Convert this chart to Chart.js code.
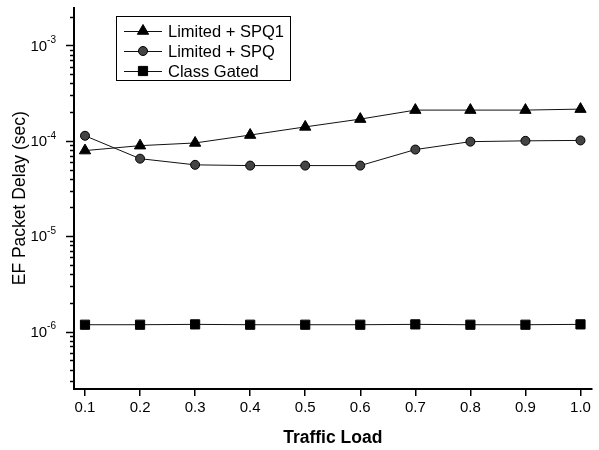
<!DOCTYPE html>
<html>
<head>
<meta charset="utf-8">
<script src="https://cdn.jsdelivr.net/npm/chart.js@4.4.0/dist/chart.umd.min.js"></script>
<style>
  html, body { margin: 0; padding: 0; background: #fff; }
  #chart { display: block; }
</style>
</head>
<body>
<canvas id="chart" width="599" height="450"></canvas>
<script>
// data
const trafficLoad = [0.1, 0.2, 0.3, 0.4, 0.5, 0.6, 0.7, 0.8, 0.9, 1.0];
const spq1Delay = [7.9e-5, 8.9e-5, 9.5e-5, 1.15e-4, 1.4e-4, 1.69e-4, 2.1e-4, 2.1e-4, 2.1e-4, 2.15e-4];
const spqDelay = [1.13e-4, 6.5e-5, 5.6e-5, 5.5e-5, 5.5e-5, 5.5e-5, 8.1e-5, 9.8e-5, 1.0e-4, 1.01e-4];
const classGatedDelay = [1.18e-6, 1.18e-6, 1.19e-6, 1.18e-6, 1.18e-6, 1.18e-6, 1.19e-6, 1.18e-6, 1.18e-6, 1.19e-6];
const seriesNames = ['Limited + SPQ1', 'Limited + SPQ', 'Class Gated'];

const xTicks = [0.1, 0.2, 0.3, 0.4, 0.5, 0.6, 0.7, 0.8, 0.9, 1.0];
const yDecades = [1e-6, 1e-5, 1e-4, 1e-3];
const yExponents = ['-6', '-5', '-4', '-3'];

const FONT = 'Arial, "Liberation Sans", Helvetica, sans-serif';

const points = ys => trafficLoad.map((x, i) => ({ x: x, y: ys[i] }));

// log axis ticks + superscript labels, drawn against the y scale
const logAxisPlugin = {
    id: 'logAxis',
    afterDraw(chart) {
        const ctx = chart.ctx;
        const y = chart.scales.y;
        const axisX = chart.chartArea.left;
        ctx.save();
        ctx.strokeStyle = '#000';
        ctx.lineWidth = 1.5;
        for (let e = -7; e <= -3; e++) {
            for (let m = 1; m <= 9; m++) {
                const v = m * Math.pow(10, e);
                if (v < y.min || v > y.max) continue;
                const py = Math.round(y.getPixelForValue(v)) + 0.5;
                const len = m === 1 ? 8 : 4;
                ctx.beginPath();
                ctx.moveTo(axisX - len, py);
                ctx.lineTo(axisX, py);
                ctx.stroke();
            }
        }
        ctx.fillStyle = '#000';
        ctx.textBaseline = 'middle';
        yDecades.forEach((v, i) => {
            const py = y.getPixelForValue(v);
            ctx.font = '10px ' + FONT;
            const supW = ctx.measureText(yExponents[i]).width;
            const right = axisX - 18;
            ctx.textAlign = 'left';
            ctx.fillText(yExponents[i], right - supW, py - 5);
            ctx.font = '15px ' + FONT;
            ctx.textAlign = 'right';
            ctx.fillText('10', right - supW, py + 1);
        });
        ctx.restore();
    }
};

// legend box with line + marker samples
const boxLegendPlugin = {
    id: 'boxLegend',
    afterDraw(chart) {
        const ctx = chart.ctx;
        const box = { left: 116.5, top: 16.5, right: 290.5, bottom: 80.5 };
        ctx.save();
        ctx.fillStyle = '#fff';
        ctx.fillRect(box.left, box.top, box.right - box.left, box.bottom - box.top);
        ctx.strokeStyle = '#000';
        ctx.lineWidth = 1;
        ctx.strokeRect(box.left, box.top, box.right - box.left, box.bottom - box.top);
        chart.data.datasets.forEach((ds, i) => {
            const cy = 31 + i * 20;
            ctx.strokeStyle = ds.borderColor;
            ctx.lineWidth = ds.borderWidth;
            ctx.beginPath();
            ctx.moveTo(124, cy + 0.5);
            ctx.lineTo(162, cy + 0.5);
            ctx.stroke();
            ctx.fillStyle = ds.pointBackgroundColor;
            ctx.strokeStyle = ds.pointBorderColor;
            ctx.lineWidth = ds.pointBorderWidth;
            Chart.helpers.drawPoint(ctx, {
                pointStyle: ds.pointStyle,
                radius: ds.pointRadius,
                borderWidth: ds.pointBorderWidth,
                rotation: 0
            }, 143, cy);
            ctx.fillStyle = '#000';
            ctx.font = '16.5px ' + FONT;
            ctx.textAlign = 'left';
            ctx.textBaseline = 'middle';
            ctx.fillText(ds.label, 168, cy + 1);
        });
        ctx.restore();
    }
};

new Chart(document.getElementById('chart'), {
    type: 'line',
    data: {
        datasets: [
            {
                label: seriesNames[0],
                data: points(spq1Delay),
                borderColor: '#111',
                borderWidth: 1,
                pointStyle: 'triangle',
                pointRadius: 6.5,
                pointBackgroundColor: '#000',
                pointBorderColor: '#000',
                pointBorderWidth: 1
            },
            {
                label: seriesNames[1],
                data: points(spqDelay),
                borderColor: '#111',
                borderWidth: 1,
                pointStyle: 'circle',
                pointRadius: 4.5,
                pointBackgroundColor: '#444',
                pointBorderColor: '#000',
                pointBorderWidth: 1
            },
            {
                label: seriesNames[2],
                data: points(classGatedDelay),
                borderColor: '#111',
                borderWidth: 1,
                pointStyle: 'rect',
                pointRadius: 6.5,
                pointBackgroundColor: '#000',
                pointBorderColor: '#000',
                pointBorderWidth: 1
            }
        ]
    },
    options: {
        responsive: false,
        animation: false,
        events: [],
        layout: { padding: { top: 5, right: 2, left: 0, bottom: 0 } },
        plugins: {
            legend: { display: false },
            tooltip: { enabled: false }
        },
        scales: {
            x: {
                type: 'linear',
                min: 0.08,
                max: 1.02,
                afterBuildTicks: scale => { scale.ticks = xTicks.map(v => ({ value: v })); },
                afterFit: scale => { scale.height = 61; },
                ticks: {
                    color: '#000',
                    font: { family: FONT, size: 15 },
                    padding: 3,
                    maxRotation: 0,
                    callback: v => v.toFixed(1)
                },
                grid: {
                    drawOnChartArea: false,
                    color: '#000',
                    tickLength: 7,
                    lineWidth: 1.5
                },
                border: { color: '#000', width: 2 },
                title: {
                    display: true,
                    text: 'Traffic Load',
                    color: '#000',
                    font: { family: FONT, size: 17.5, weight: 'bold' },
                    padding: { top: 0, bottom: 1 }
                }
            },
            y: {
                type: 'logarithmic',
                min: 2.5e-7,
                max: 2.5e-3,
                afterFit: scale => { scale.width = 74; },
                ticks: { display: false },
                grid: { display: false },
                border: { color: '#000', width: 2 },
                title: {
                    display: true,
                    text: 'EF Packet Delay (sec)',
                    color: '#000',
                    font: { family: FONT, size: 17.5 },
                    padding: { top: 10, bottom: 0 }
                }
            }
        }
    },
    plugins: [logAxisPlugin, boxLegendPlugin]
});
</script>
</body>
</html>
